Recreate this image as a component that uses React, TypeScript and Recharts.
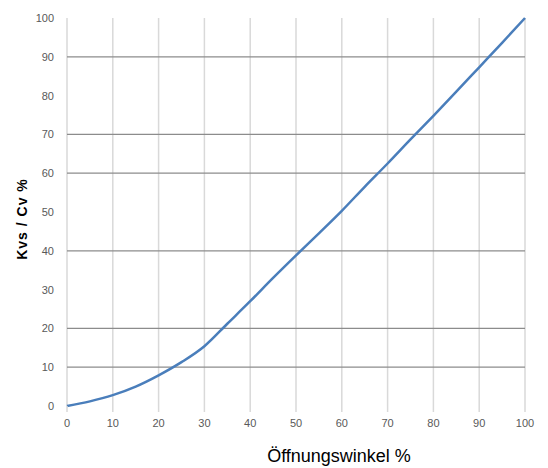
import { LineChart, Line, XAxis, YAxis, CartesianGrid, ReferenceLine, Label } from 'recharts';

const openingAngle = [0, 5, 10, 15, 20, 25, 30, 35, 40, 45, 50, 55, 60, 65, 70, 75, 80, 85, 90, 95, 100];
const kvsPercent = [0, 1.2, 2.8, 5, 7.9, 11.3, 15.4, 21.2, 27, 33, 38.8, 44.5, 50.3, 56.5, 62.5, 68.7, 74.8, 81, 87.3, 93.6, 100];
const axisTicks = [0, 10, 20, 30, 40, 50, 60, 70, 80, 90, 100];
// only these horizontal lines show up in the reference
const horizontalLines = [10, 20, 40, 60, 70, 90];

const data = openingAngle.map((x, i) => ({ x, y: kvsPercent[i] }));

const font = 'Liberation Sans, Arial, sans-serif';

function XTick(props: any) {
  const { x, y, payload } = props;
  return (
    <text x={x} y={y + 9} textAnchor="middle" fontSize={11} fill="#595959" fontFamily={font}>
      {payload.value}
    </text>
  );
}

function YTick(props: any) {
  const { x, y, payload } = props;
  return (
    <text x={x} y={y + 4} textAnchor="end" fontSize={11} fill="#595959" fontFamily={font}>
      {payload.value}
    </text>
  );
}

export default function App() {
  return (
    <div style={{ position: 'absolute', left: 0, top: 0, background: '#fff' }}>
      <LineChart width={548} height={468} data={data} margin={{ top: 18, right: 23, left: 0, bottom: 0 }}>
        <CartesianGrid horizontal={false} stroke="#d9d9d9" strokeWidth={1.5} />
        {horizontalLines.map((v) => (
          <ReferenceLine key={v} y={v} stroke="#8c8c8c" strokeWidth={1.2} />
        ))}
        <XAxis
          dataKey="x"
          type="number"
          domain={[0, 100]}
          ticks={axisTicks}
          height={62}
          axisLine={false}
          tickLine={{ stroke: '#d9d9d9', strokeWidth: 1.5 }}
          tickSize={6}
          tickMargin={6}
          tick={<XTick />}
        >
          <Label
            value="Öffnungswinkel %"
            position="insideBottom"
            offset={6}
            dx={43}
            style={{ fontSize: 18, fill: '#000', fontFamily: font }}
          />
        </XAxis>
        <YAxis
          type="number"
          domain={[0, 100]}
          ticks={axisTicks}
          width={67}
          axisLine={false}
          tickLine={false}
          tickSize={0}
          tickMargin={13}
          tick={<YTick />}
        >
          <Label
            value="Kvs / Cv %"
            angle={-90}
            position="insideLeft"
            offset={22}
            dy={7}
            style={{
              fontSize: 14,
              fontWeight: 'bold',
              letterSpacing: 1,
              fill: '#000',
              fontFamily: font,
              textAnchor: 'middle',
            }}
          />
        </YAxis>
        <Line
          dataKey="y"
          type="monotone"
          stroke="#4a7ebb"
          strokeWidth={2.5}
          dot={false}
          isAnimationActive={false}
        />
      </LineChart>
    </div>
  );
}
